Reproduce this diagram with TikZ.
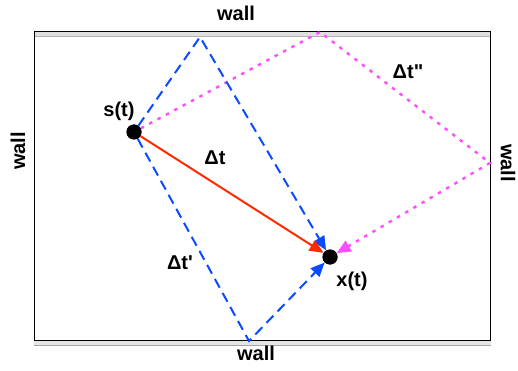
\documentclass[tikz,border=0pt]{standalone}
\usepackage{fontspec}
\setmainfont{Liberation Sans}
\usetikzlibrary{arrows.meta}
\definecolor{bluel}{HTML}{0A4BFF}
\definecolor{magl}{HTML}{FF4DFF}
\definecolor{redl}{HTML}{FF2A00}
\begin{document}
\begin{tikzpicture}[x=1pt,y=-1pt,
  lbl/.style={font=\fontsize{20}{24}\selectfont\bfseries, inner sep=0pt},
  dotnode/.style={circle, fill=black, minimum size=15pt, inner sep=0pt},
  bluepath/.style={draw=bluel, line width=2pt, dash pattern=on 10pt off 6pt, -{Triangle[length=14pt,width=12pt]}},
  magpath/.style={draw=magl, line width=2.4pt, dash pattern=on 3.5pt off 6pt, -{Triangle[length=14pt,width=12pt]}},
  redpath/.style={draw=redl, line width=2pt, -{Triangle[length=14pt,width=12pt]}},
  wallbar/.style={fill=gray!25, draw=gray!60, line width=0.6pt}]
\useasboundingbox (0,0) rectangle (518,371);
% walls
\fill[gray!20] (34,340) rectangle (491,345);
\draw[gray!70, line width=0.8pt] (34,345) -- (491,345);
\draw[wallbar] (34,31) rectangle (490,36);
\draw[black, line width=0.9pt] (34,31) rectangle (490,340);
% coordinates
\coordinate (bt) at (200,37);
\coordinate (bb) at (249,341);
\coordinate (mt) at (320,32);
\coordinate (mr) at (490,163);
\node[dotnode] (s) at (134,132) {};
\node[dotnode] (x) at (330,257) {};
% paths
\draw[magpath] (s) -- (mt) -- (mr) -- (x);
\draw[bluepath] (s) -- (bt) -- (x);
\draw[bluepath] (s) -- (bb) -- (x);
\draw[redpath] (s) -- (x);
\node[dotnode] at (s) {};
\node[dotnode] at (x) {};
% labels
\node[lbl] (wt) at (236,13) {wall};
\node[lbl] (wb) at (256,353) {wall};
\node[lbl, rotate=90] (wl) at (18,151) {wall};
\node[lbl, rotate=-90] (wr) at (508,163) {wall};
\node[lbl] (ls) at (119,111) {s(t)};
\node[lbl] (lx) at (352,281) {x(t)};
\node[lbl] (ld) at (215,158) {Δt};
\node[lbl] (ld1) at (180,263) {Δt\textquotesingle};
\node[lbl] (ld2) at (408,72) {Δt\textquotedbl};
\end{tikzpicture}
\end{document}
